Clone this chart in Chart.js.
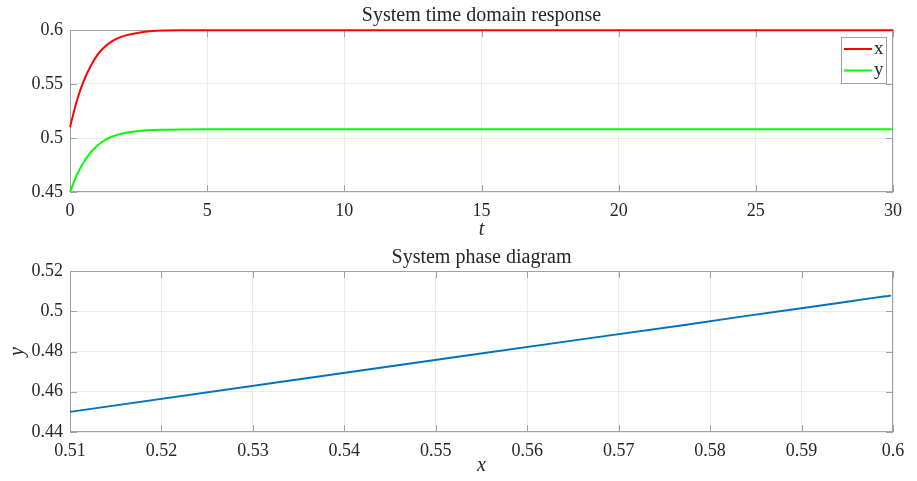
<!DOCTYPE html>
<html>
<head>
<meta charset="utf-8">
<script src="https://cdn.jsdelivr.net/npm/chart.js@4.4.0/dist/chart.umd.min.js"></script>
<style>
html, body { margin: 0; padding: 0; background: #fff; }
#wrap { position: relative; width: 917px; height: 481px; }
canvas { position: absolute; left: 0; }
</style>
</head>
<body>
<div id="wrap">
  <canvas id="response-chart" width="917" height="240" style="top:0"></canvas>
  <canvas id="phase-chart" width="917" height="241" style="top:240px"></canvas>
</div>
<script>
// values
const timeSteps = [0, 0.25, 0.5, 0.75, 1, 1.25, 1.5, 1.75, 2, 2.5, 3, 3.5, 4, 5, 10, 15, 20, 25, 30];
const xValues = [0.51, 0.5345, 0.5528, 0.5665, 0.577, 0.584, 0.589, 0.5925, 0.5948, 0.5975, 0.599, 0.5995, 0.5997, 0.5997, 0.5997, 0.5997, 0.5997, 0.5997, 0.5997];
const yValues = [0.45, 0.4658, 0.4776, 0.4864, 0.4931, 0.4977, 0.5009, 0.5031, 0.5046, 0.5064, 0.5073, 0.5076, 0.5078, 0.508, 0.508, 0.508, 0.508, 0.508, 0.508];

const timeTicks = [0, 5, 10, 15, 20, 25, 30];
const responseTicks = [0.45, 0.5, 0.55, 0.6];
const phaseXTicks = [0.51, 0.52, 0.53, 0.54, 0.55, 0.56, 0.57, 0.58, 0.59, 0.6];
const phaseYTicks = [0.44, 0.46, 0.48, 0.5, 0.52];

const FONT = "'Liberation Serif', 'Times New Roman', serif";
const TEXT = '#262626';

function makeScale(ticks, pad, size) {
    return {
        type: 'linear',
        min: ticks[0],
        max: ticks[ticks.length - 1],
        afterBuildTicks: s => { s.ticks = ticks.map(v => ({ value: v })); },
        afterFit: s => { if (s.isHorizontal()) s.height = size; else s.width = size; },
        ticks: {
            font: { family: FONT, size: 18 },
            color: TEXT,
            padding: pad,
            maxRotation: 0,
            autoSkip: false,
            callback: v => String(+v.toFixed(2))
        },
        grid: { color: '#ebebeb', drawTicks: false },
        border: { display: false }
    };
}

// MATLAB-like box, inward ticks, title, axis labels and legend
const matlabAxes = {
    id: 'matlabAxes',
    beforeDatasetsDraw(chart) {
        const ctx = chart.ctx;
        const a = chart.chartArea;
        const sx = chart.scales.x, sy = chart.scales.y;
        ctx.save();
        ctx.strokeStyle = '#a0a0a0';
        ctx.lineWidth = 1;
        ctx.strokeRect(a.left + 0.5, a.top + 0.5, a.right - a.left - 1, a.bottom - a.top - 1);
        ctx.beginPath();
        sx.ticks.forEach(t => {
            const px = Math.round(sx.getPixelForValue(t.value)) + 0.5;
            ctx.moveTo(px, a.bottom); ctx.lineTo(px, a.bottom - 7);
            ctx.moveTo(px, a.top); ctx.lineTo(px, a.top + 7);
        });
        sy.ticks.forEach(t => {
            const py = Math.round(sy.getPixelForValue(t.value)) + 0.5;
            ctx.moveTo(a.left, py); ctx.lineTo(a.left + 7, py);
            ctx.moveTo(a.right, py); ctx.lineTo(a.right - 7, py);
        });
        ctx.stroke();
        ctx.restore();
    },
    afterDraw(chart, args, opts) {
        const ctx = chart.ctx;
        const a = chart.chartArea;
        ctx.save();
        ctx.fillStyle = TEXT;
        ctx.textAlign = 'center';
        ctx.textBaseline = 'middle';
        ctx.font = '20px ' + FONT;
        ctx.fillText(opts.title, (a.left + a.right) / 2, opts.titleY);

        ctx.font = 'italic 20px ' + FONT;
        ctx.fillText(opts.xLabel, (a.left + a.right) / 2, opts.xLabelY);
        if (opts.yLabel) {
            ctx.save();
            ctx.translate(opts.yLabelX, (a.top + a.bottom) / 2);
            ctx.rotate(-Math.PI / 2);
            ctx.fillText(opts.yLabel, 0, 0);
            ctx.restore();
        }

        if (opts.legend) {
            const lx = 841, ly = 37, lw = 45, lh = 46;
            ctx.fillStyle = '#fff';
            ctx.fillRect(lx, ly, lw, lh);
            ctx.strokeStyle = '#a0a0a0';
            ctx.lineWidth = 1;
            ctx.strokeRect(lx + 0.5, ly + 0.5, lw, lh);
            chart.data.datasets.forEach((ds, i) => {
                const y = ly + 12 + i * 21.5;
                ctx.strokeStyle = ds.borderColor;
                ctx.lineWidth = 2;
                ctx.beginPath();
                ctx.moveTo(lx + 3, y); ctx.lineTo(lx + 31, y);
                ctx.stroke();
                ctx.fillStyle = TEXT;
                ctx.textAlign = 'left';
                ctx.font = '19px ' + FONT;
                ctx.fillText(ds.label, lx + 33, y);
            });
        }
        ctx.restore();
    }
};

// top: time domain response
new Chart(document.getElementById('response-chart'), {
    type: 'line',
    data: {
        datasets: [
            {
                label: 'x',
                data: timeSteps.map((t, i) => ({ x: t, y: xValues[i] })),
                borderColor: '#ff0000',
                borderWidth: 2,
                pointRadius: 0,
                cubicInterpolationMode: 'monotone',
                clip: false
            },
            {
                label: 'y',
                data: timeSteps.map((t, i) => ({ x: t, y: yValues[i] })),
                borderColor: '#00ff00',
                borderWidth: 2,
                pointRadius: 0,
                cubicInterpolationMode: 'monotone',
                clip: false
            }
        ]
    },
    options: {
        responsive: false,
        animation: false,
        devicePixelRatio: 1,
        layout: { padding: { top: 30, right: 24, left: 0, bottom: 0 } },
        scales: { x: makeScale(timeTicks, 8, 48), y: makeScale(responseTicks, 7, 70) },
        plugins: {
            legend: { display: false },
            tooltip: { enabled: false },
            matlabAxes: { title: 'System time domain response', titleY: 16, xLabel: 't', xLabelY: 230, legend: true }
        }
    },
    plugins: [matlabAxes]
});

// bottom: phase diagram
new Chart(document.getElementById('phase-chart'), {
    type: 'scatter',
    data: {
        datasets: [{
            label: 'phase',
            data: xValues.map((v, i) => ({ x: v, y: yValues[i] })),
            borderColor: '#0072bd',
            borderWidth: 2,
            pointRadius: 0,
            showLine: true,
            clip: false
        }]
    },
    options: {
        responsive: false,
        animation: false,
        devicePixelRatio: 1,
        layout: { padding: { top: 31, right: 24, left: 0, bottom: 0 } },
        scales: { x: makeScale(phaseXTicks, 8, 49), y: makeScale(phaseYTicks, 7, 70) },
        plugins: {
            legend: { display: false },
            tooltip: { enabled: false },
            matlabAxes: { title: 'System phase diagram', titleY: 18, xLabel: 'x', xLabelY: 226, yLabel: 'y', yLabelX: 18 }
        }
    },
    plugins: [matlabAxes]
});
</script>
</body>
</html>
